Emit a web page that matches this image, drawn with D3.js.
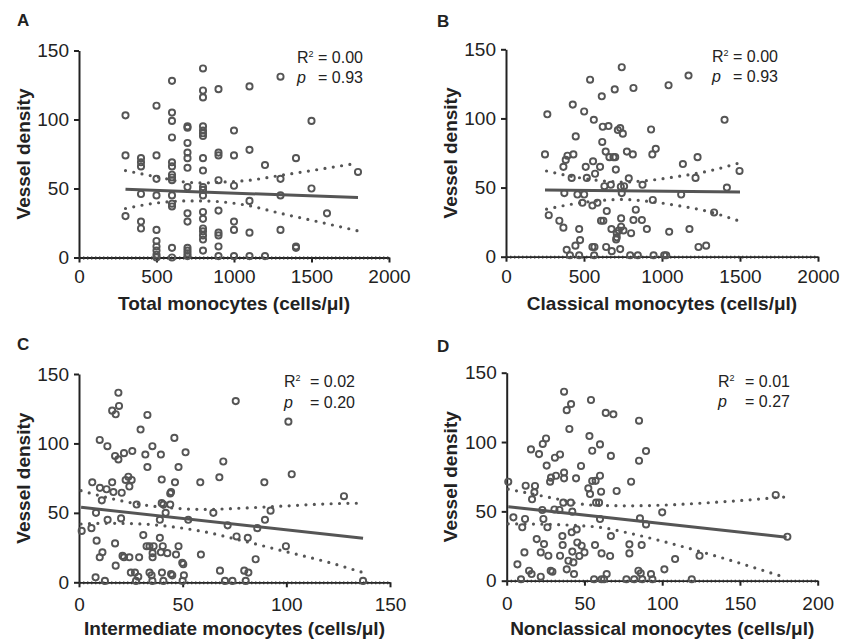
<!DOCTYPE html>
<html><head><meta charset="utf-8">
<script src="https://cdn.jsdelivr.net/npm/d3@7"></script>
<style>
body{margin:0;background:#fff}
svg{display:block}
text{font-family:"Liberation Sans",Arial,Helvetica,sans-serif;fill:#222}
</style>
</head><body>
<svg id="chart" width="842" height="642"></svg>
<script>
// ---------- DATA ----------
const yTicks = [0, 50, 100, 150];

// A: Total monocytes, grouped by x value
const totalGroups = [
  [300, [103, 74, 30]],
  [400, [72, 69, 66, 46, 26, 21]],
  [500, [110, 74, 57, 45, 20, 12, 8, 5, 2, 0]],
  [600, [128, 105, 99, 87, 69, 66, 60, 58, 56, 45, 39, 37, 7, 0]],
  [700, [95, 94, 83, 76, 72, 65, 51, 32, 26, 7, 5, 3, 1]],
  [800, [137, 121, 116, 95, 92, 90, 88, 72, 63, 51, 49, 45, 33, 28, 21, 19, 16, 13, 5]],
  [900, [122, 76, 74, 56, 34, 18, 16, 8, 1]],
  [1000, [92, 74, 52, 26, 20, 1]],
  [1100, [124, 78, 41, 18, 1]],
  [1200, [67, 1]],
  [1300, [131, 57, 45, 20]],
  [1400, [72, 8, 7]],
  [1500, [99, 50]],
  [1600, [32]],
  [1800, [62]]
];
const totalTicks = [0, 500, 1000, 1500, 2000];
const totalFit = [[300, 49.4], [1800, 43.5]];
const totalUpper = [[300, 63], [500, 58.5], [700, 54.5], [800, 54], [900, 54.5], [1100, 56], [1300, 59.5], [1500, 63], [1800, 68.4]];
const totalLower = [[300, 35.5], [500, 39.5], [700, 41], [800, 41], [900, 40.5], [1100, 37.5], [1300, 32], [1500, 27], [1800, 19.3]];

// B: Classical monocytes
const classicalPts = [[250,74],[265,103],[274,30],[342,26],[368,21],[374,46],[368,65],[383,70],[394,73],[432,74],[428,110],[421,57],[447,87],[389,5],[410,1],[445,8],[469,1],[475,12],[469,20],[458,45],[501,45],[490,39],[501,105],[511,65],[518,57],[539,128],[554,37],[558,69],[571,60],[563,99],[554,7],[565,1],[567,7],[586,39],[603,65],[614,116],[620,94],[617,83],[609,26],[624,26],[631,51],[639,76],[642,7],[646,33],[657,94.5],[663,72],[672,52],[678,4],[676,20],[697,121],[689,72],[704,63],[700,72],[717,91.6],[732,93],[749,89],[742,137],[710,17],[710,14],[706,12.5],[723,19],[738,21.7],[732,5.5],[736,50.6],[742,46],[757,51],[753,19],[738,27.7],[775,76],[787,56.7],[802,17],[796,1],[817,122],[813,74],[817,26.5],[832,34],[845,1],[871,26.5],[875,52],[903,20],[930,92],[938,74],[941,41],[960,78],[946,1],[1014,1],[1027,1],[1042,124],[1046,18],[1123,45],[1134,67],[1170,131],[1176,20],[1215,57],[1228,72],[1234,7],[1283,8],[1334,32],[1401,99],[1416,50],[1497,62]];
const classicalTicks = [0, 500, 1000, 1500, 2000];
const classicalFit = [[250, 48.2], [1500, 46.8]];
const classicalUpper = [[260, 62], [450, 57.5], [650, 54.5], [750, 54], [900, 55], [1100, 58], [1300, 62], [1500, 68]];
const classicalLower = [[260, 34.4], [450, 38.5], [650, 41], [750, 41.4], [900, 40.2], [1100, 37], [1300, 32.6], [1500, 25.6]];

// C: Intermediate monocytes
const intermediatePts = [[1.3,37],[6,39],[6.4,72],[8,3.6],[8.5,30],[8.2,50],[10,102.5],[10.1,68],[11,59],[10,18],[11.3,21.6],[12.5,1],[13.7,98],[13.3,67],[13.8,45],[16,123.6],[16.6,65],[16,72],[17.4,91],[17.7,121],[17.7,12],[17.4,28],[19,136.5],[19.3,127],[19,88.5],[20.6,64.5],[20.3,46],[21,19],[21.7,93],[21.7,18],[22.5,73.7],[23.8,76],[24.3,69],[25,7],[24.3,18],[25.7,94.5],[25.4,73.7],[27,7],[27.5,1],[27.8,56],[29,18],[28.6,4],[29.7,110],[31,34],[32,92],[33,83],[33,120.5],[32.6,26],[34,26],[34,7],[35,5],[35.4,1],[35.4,98],[35.5,21],[35.5,18],[36,26],[39.5,92],[39,45],[39,32],[39.9,74],[39.9,57],[40.7,56],[40.4,26],[39.5,21.6],[40,7],[40.7,1],[41.8,50],[42.6,21],[44,56],[44,64],[44.4,65],[44.4,6],[45,5],[46,104],[46.3,72],[46.8,20],[48,83],[48,26],[49.8,14],[50.3,13],[50.6,5],[50,1],[51.4,93.6],[52.7,45],[58.5,72],[58.8,20],[64.8,50],[67.7,75.6],[69.6,87],[68,8.4],[70.4,1],[71.7,41],[74,1],[75.6,130.5],[76,33],[80.4,1],[79.7,8.4],[81.7,7],[81.4,32],[85.2,16.6],[86,39],[89.4,72],[89.7,45],[92.4,51.6],[101,115.7],[102.6,77.8],[99.8,26],[127.8,62],[137,1]];
const intermediateTicks = [0, 50, 100, 150];
const intermediateFit = [[1, 54], [137, 31.7]];
const intermediateUpper = [[1, 66], [15, 60.5], [30, 56], [45, 53.5], [60, 52.5], [80, 53.5], [100, 55], [120, 56.5], [137, 57]];
const intermediateLower = [[1, 42], [15, 42.5], [30, 42], [45, 40], [60, 36.5], [80, 29.5], [100, 22], [120, 14.5], [137, 7]];

// D: Nonclassical monocytes
const nonclassicalPts = [[1,71.4],[4.3,45.7],[6.9,11.8],[9.2,1],[10,38.5],[12.2,68.5],[11.8,44.5],[11.4,20.4],[14.4,7.2],[16,4.8],[15.6,94.7],[16.3,58.7],[18.2,68.3],[17.8,63.7],[19.3,30],[20.8,91.3],[21.9,20.4],[21.9,2.9],[22.9,51],[23.6,44.5],[24,26.4],[23.2,98.6],[25.3,102.6],[25.7,83],[26.2,38.5],[26.8,18],[27.9,71.4],[28.3,7.2],[29.4,6.5],[28.5,74.3],[30.7,51.4],[31,88.7],[31.7,75.7],[33.9,51],[34.3,91],[34.3,18],[35.8,32.2],[36,25.7],[36.4,56.3],[36.9,78],[36.9,73.8],[36.9,136.3],[38.6,123],[38.6,8.2],[39.7,14.4],[40.3,109.4],[41.4,127.4],[41.2,56.3],[42.2,49.8],[41.8,34.9],[42.2,21],[42.9,13.2],[43.3,4.8],[44.6,73.8],[45,37],[45.4,27.6],[47.8,82.7],[48.2,25.2],[46.7,17.8],[50,20.4],[52.5,66.6],[53.2,104.3],[53.6,62.5],[54.2,130.3],[55,93.7],[55,71.9],[57.2,72],[56.8,25.7],[56.2,1],[57.5,56.3],[59.4,56.3],[60,98.3],[60,75.7],[60,44.5],[60.7,64.2],[61,19.7],[61,1],[62.6,1],[63.7,121],[64.3,4.8],[68.6,120],[67,90],[66.5,17.8],[67,32.2],[70.7,64.7],[77,1],[78.9,26.2],[78.9,19.7],[80,71.4],[82,1],[84.7,7.2],[85.1,115.4],[85.1,86.5],[85.7,45],[86.2,5.3],[86.8,25.7],[87.2,1],[89.6,93.5],[89.6,40.6],[92.8,4.8],[93.7,1],[100,49.3],[101.4,8.2],[108.3,15.6],[119,1],[124,18],[173,61.8],[180.5,31.7]];
const nonclassicalTicks = [0, 50, 100, 150, 200];
const nonclassicalFit = [[1, 53.4], [180, 31.3]];
const nonclassicalUpper = [[1, 66], [30, 59.5], [50, 55], [60, 54.3], [80, 54], [100, 54.5], [140, 57], [180, 60.5]];
const nonclassicalLower = [[1, 41], [30, 40.5], [50, 39.5], [60, 38.5], [80, 34], [100, 28.5], [140, 16], [180, 2]];

const statsR2 = ["0.00", "0.00", "0.02", "0.01"];
const statsP = ["0.93", "0.93", "0.20", "0.27"];
const panelLetters = ["A", "B", "C", "D"];
const xTitles = ["Total monocytes (cells/\u03bcl)", "Classical monocytes (cells/\u03bcl)",
                 "Intermediate monocytes (cells/\u03bcl)", "Nonclassical monocytes (cells/\u03bcl)"];
const yTitle = "Vessel density";

// ---------- LAYOUT ----------
const totalPts = totalGroups.flatMap(([x, ys]) => ys.map(y => [x, y]));
const panels = [
  {pts: totalPts, xDomain: [0, 2000], ticks: totalTicks, fit: totalFit, up: totalUpper, lo: totalLower,
   xr: [79, 389], yr: [257.5, 50.5], tickBase: 283, titleBase: 310, letter: [17, 26], yTitleX: 30,
   stat: {lx: 297, vx: 318, y1: 63, y2: 83}},
  {pts: classicalPts, xDomain: [0, 2000], ticks: classicalTicks, fit: classicalFit, up: classicalUpper, lo: classicalLower,
   xr: [506, 818], yr: [256.7, 49.3], tickBase: 283, titleBase: 310, letter: [437, 27], yTitleX: 457,
   stat: {lx: 712, vx: 733, y1: 62, y2: 82}},
  {pts: intermediatePts, xDomain: [0, 150], ticks: intermediateTicks, fit: intermediateFit, up: intermediateUpper, lo: intermediateLower,
   xr: [79, 390], yr: [582.3, 374], tickBase: 611, titleBase: 635, letter: [17, 350], yTitleX: 30,
   stat: {lx: 284, vx: 310, y1: 387, y2: 408}},
  {pts: nonclassicalPts, xDomain: [0, 200], ticks: nonclassicalTicks, fit: nonclassicalFit, up: nonclassicalUpper, lo: nonclassicalLower,
   xr: [506.7, 817.7], yr: [580.7, 372.7], tickBase: 610, titleBase: 635, letter: [437, 352], yTitleX: 457,
   stat: {lx: 718, vx: 745, y1: 387, y2: 407}}
];

const svg = d3.select("#chart");
const markColor = "#555";
const axisColor = "#222";
const tickFont = 19;

panels.forEach((p, i) => {
  const x = d3.scaleLinear().domain(p.xDomain).range(p.xr);
  const y = d3.scaleLinear().domain([0, 150]).range(p.yr);
  const g = svg.append("g");

  // panel letter
  g.append("text").attr("x", p.letter[0]).attr("y", p.letter[1])
    .attr("font-size", 17).attr("font-weight", "bold").text(panelLetters[i]);

  // y axis
  const yAxis = d3.axisLeft(y).tickValues(yTicks).tickFormat(d3.format("d"))
    .tickSize(5).tickSizeOuter(0).tickPadding(5);
  const gy = g.append("g").attr("transform", `translate(${p.xr[0]},0)`).call(yAxis);
  gy.select(".domain").attr("stroke", axisColor).attr("stroke-width", 2);
  gy.selectAll(".tick line").attr("stroke", axisColor).attr("stroke-width", 2);
  gy.selectAll(".tick text").attr("font-size", tickFont).attr("fill", axisColor)
    .attr("font-family", "'Liberation Sans', Arial, sans-serif");

  // x axis
  const axY = p.yr[0];
  const pad = p.tickBase - axY - 5 - 0.71 * tickFont;
  const xAxis = d3.axisBottom(x).tickValues(p.ticks).tickFormat(d3.format("d"))
    .tickSize(5).tickSizeOuter(0).tickPadding(pad);
  const gx = g.append("g").attr("transform", `translate(0,${axY})`).call(xAxis);
  gx.select(".domain").attr("stroke", axisColor).attr("stroke-width", 1.8);
  gx.selectAll(".tick line").attr("stroke", axisColor).attr("stroke-width", 2);
  gx.selectAll(".tick text").attr("font-size", tickFont).attr("fill", axisColor)
    .attr("font-family", "'Liberation Sans', Arial, sans-serif");
  // dotted zero line on the x axis
  g.append("line").attr("x1", x(p.xDomain[0])).attr("x2", x(p.xDomain[1]))
    .attr("y1", y(0) + 0.5).attr("y2", y(0) + 0.5)
    .attr("stroke", "#333").attr("stroke-width", 2.8).attr("stroke-dasharray", "1.4,2.6");

  // axis titles
  g.append("text").attr("transform", `translate(${p.yTitleX},${(p.yr[0] + p.yr[1]) / 2}) rotate(-90)`)
    .attr("text-anchor", "middle").attr("font-size", 19).attr("font-weight", "bold").text(yTitle);
  g.append("text").attr("x", (p.xr[0] + p.xr[1]) / 2).attr("y", p.titleBase)
    .attr("text-anchor", "middle").attr("font-size", 19).attr("font-weight", "bold").text(xTitles[i]);

  // confidence bands (dotted)
  const band = d3.line().x(d => x(d[0])).y(d => y(d[1])).curve(d3.curveMonotoneX);
  [p.up, p.lo].forEach(arr => {
    g.append("path").attr("d", band(arr)).attr("fill", "none")
      .attr("stroke", markColor).attr("stroke-width", 3.2)
      .attr("stroke-linecap", "round").attr("stroke-dasharray", "0,8.4");
  });

  // points
  g.append("g").selectAll("circle").data(p.pts).join("circle")
    .attr("cx", d => x(d[0])).attr("cy", d => y(d[1])).attr("r", 3.1)
    .attr("fill", "none").attr("stroke", markColor).attr("stroke-width", 1.9);

  // regression line
  g.append("path").attr("d", d3.line().x(d => x(d[0])).y(d => y(d[1]))(p.fit))
    .attr("fill", "none").attr("stroke", markColor).attr("stroke-width", 3);

  // stats
  const s = p.stat;
  const t1 = g.append("text").attr("x", s.lx).attr("y", s.y1).attr("font-size", 16);
  t1.append("tspan").text("R");
  t1.append("tspan").attr("font-size", 9).attr("dy", -6).text("2");
  g.append("text").attr("x", s.vx).attr("y", s.y1).attr("font-size", 16).text("= " + statsR2[i]);
  g.append("text").attr("x", s.lx).attr("y", s.y2).attr("font-size", 16).attr("font-style", "italic").text("p");
  g.append("text").attr("x", s.vx).attr("y", s.y2).attr("font-size", 16).text("= " + statsP[i]);
});
</script>
</body></html>
